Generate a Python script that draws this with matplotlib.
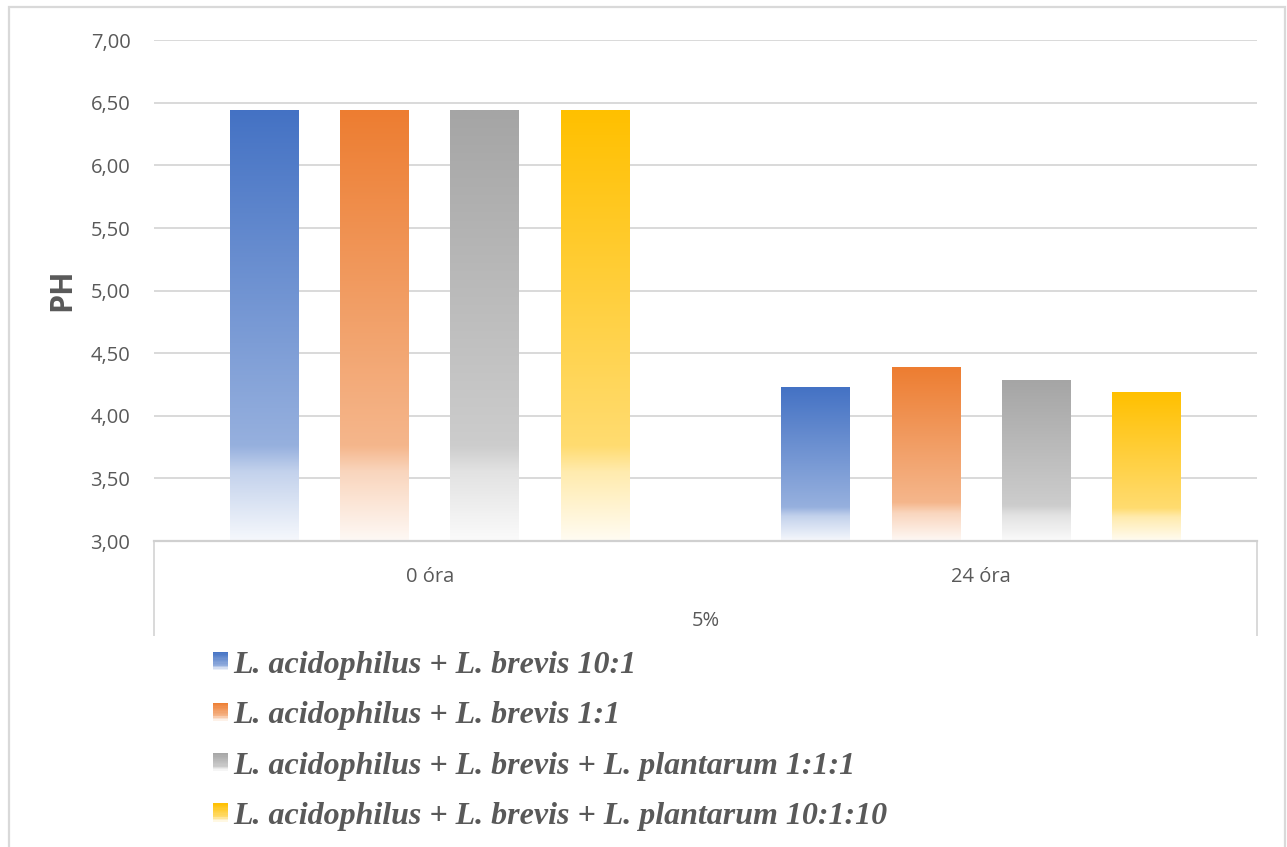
import numpy as np
import matplotlib
matplotlib.use("Agg")
import matplotlib.pyplot as plt
from matplotlib.patches import Rectangle, Patch
from matplotlib.lines import Line2D
from matplotlib.legend_handler import HandlerBase

# ---- data -------------------------------------------------------------
categories = ["0 óra", "24 óra"]
group_label = "5%"
series_labels = [
    "L. acidophilus + L. brevis 10:1",
    "L. acidophilus + L. brevis 1:1",
    "L. acidophilus + L. brevis + L. plantarum 1:1:1",
    "L. acidophilus + L. brevis + L. plantarum 10:1:10",
]
series_values = [
    [6.44, 4.23],
    [6.44, 4.39],
    [6.44, 4.28],
    [6.44, 4.19],
]
series_colors = ["#4472C4", "#ED7D31", "#A5A5A5", "#FFC000"]
y_ticks = [3.0, 3.5, 4.0, 4.5, 5.0, 5.5, 6.0, 6.5, 7.0]
y_label = "PH"

TEXT = "#595959"
LINE = "#D9D9D9"

# strength of the fill colour from the top of a bar (0) to its bottom (1)
grad_pos = [0.0, 0.78, 0.84, 1.0]
grad_amt = [1.0, 0.56, 0.32, 0.05]


def shade(color, t):
    c = np.array(matplotlib.colors.to_rgb(color))
    a = np.interp(t, grad_pos, grad_amt)
    return 1.0 - np.outer(a, 1.0 - c)


class GradientHandler(HandlerBase):
    def create_artists(self, legend, orig_handle, xdescent, ydescent,
                       width, height, fontsize, trans):
        color = orig_handle.get_facecolor()
        n = 14
        t = (np.arange(n) + 0.5) / n
        cols = shade(color, t)
        arts = []
        for i in range(n):
            y0 = -ydescent + height * (1 - (i + 1) / n)
            arts.append(Rectangle((-xdescent, y0), width, height / n + 0.3,
                                  facecolor=cols[i], edgecolor="none",
                                  transform=trans))
        return arts


plt.rcParams["font.family"] = ["Open Sans", "DejaVu Sans"]

fig = plt.figure(figsize=(12.87, 8.47), dpi=100)
ax = fig.add_axes([154 / 1287, 1 - 541 / 847, (1257 - 154) / 1287, (541 - 40.3) / 847])

x = np.arange(len(categories))
width = 0.125
offsets = [-0.3, -0.1, 0.1, 0.3]
ymin = y_ticks[0]

for vals, color, off, lab in zip(series_values, series_colors, offsets, series_labels):
    bars = ax.bar(x + off, vals, width, facecolor="none", edgecolor="none", label=lab)
    for rect in bars:
        x0 = rect.get_x()
        top = rect.get_height()
        n = 300
        t = np.linspace(0, 1, n)
        img = shade(color, t).reshape(n, 1, 3)
        ax.imshow(img, extent=(x0, x0 + rect.get_width(), ymin, top),
                  aspect="auto", origin="upper", interpolation="bilinear", zorder=2)

ax.set_xlim(-0.5, 1.5)
ax.set_ylim(y_ticks[0], y_ticks[-1])
ax.set_yticks(y_ticks)
ax.set_yticklabels([f"{v:.2f}".replace(".", ",") for v in y_ticks])
ax.set_xticks(x)
ax.set_xticklabels(categories)
ax.tick_params(axis="both", length=0, labelcolor=TEXT, labelsize=14.5)
ax.tick_params(axis="y", pad=17)
ax.tick_params(axis="x", pad=19)

ax.grid(axis="y", color=LINE, lw=1.4, zorder=0)
ax.set_axisbelow(True)
for s in ["top", "left", "right"]:
    ax.spines[s].set_visible(False)
ax.spines["bottom"].set_color("#D0D0D0")
ax.spines["bottom"].set_linewidth(1.6)

# category-group frame below the axis
depth = (635 - 541) / (541 - 40.3)
for xe in (0.0, 1.0):
    ax.add_line(Line2D([xe, xe], [0, -depth], transform=ax.transAxes,
                       color=LINE, lw=1.4, clip_on=False))
ax.text(0.5, -(621 - 541) / (541 - 40.3), group_label, transform=ax.transAxes,
        ha="center", va="center", color=TEXT, fontsize=14.5)

fig.text(62 / 1287, 1 - 290 / 847, y_label, rotation=90, ha="center", va="center",
         color=TEXT, fontsize=22, fontweight="bold")

# outer chart border
fig.patches.append(Rectangle((8.5 / 1287, -0.05), (1285 - 8.5) / 1287, 1.05 - 7.5 / 847,
                             transform=fig.transFigure, facecolor="none",
                             edgecolor=LINE, lw=1.6))

handles = [Patch(facecolor=c, label=l) for c, l in zip(series_colors, series_labels)]
leg = fig.legend(handles=handles, handler_map={Patch: GradientHandler()},
                 loc="upper left", bbox_to_anchor=(200 / 1287, 1 - 638 / 847),
                 frameon=False, labelspacing=0.67, handlelength=0.48,
                 handleheight=0.48, handletextpad=0.15, borderaxespad=0,
                 prop={"family": "Liberation Serif", "style": "italic",
                       "weight": "bold", "size": 23})
for txt in leg.get_texts():
    txt.set_color(TEXT)

fig.savefig("out.png", dpi=100, facecolor="white")
